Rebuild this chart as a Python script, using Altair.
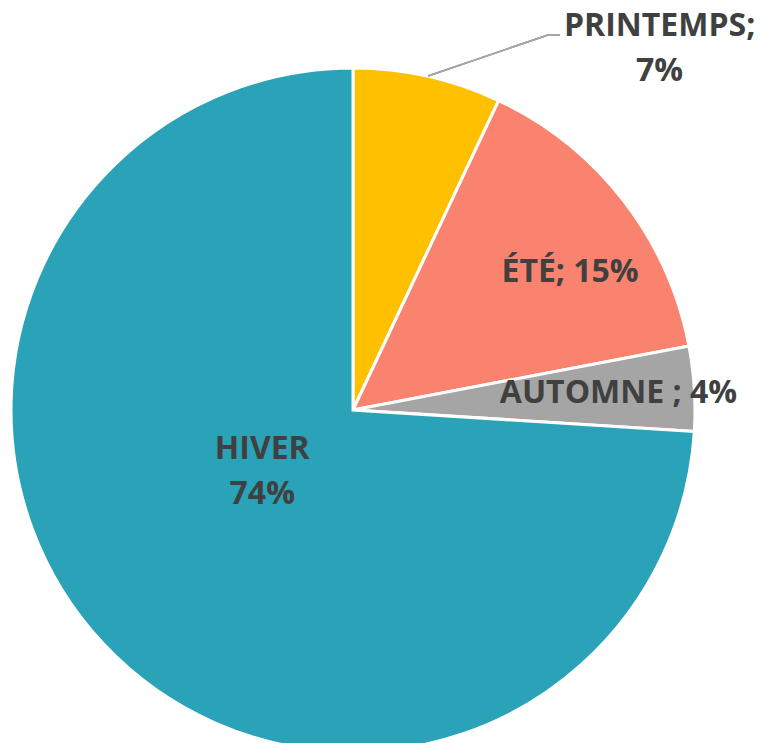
import altair as alt
import pandas as pd

categories = ["PRINTEMPS", "ÉTÉ", "AUTOMNE", "HIVER"]
values = [7, 15, 4, 74]
labels = ["PRINTEMPS;\n7%", "ÉTÉ; 15%", "AUTOMNE ; 4%", "HIVER\n74%"]
colors = ["#FFC000", "#FA8370", "#A5A5A5", "#2AA2B8"]

df = pd.DataFrame({"cat": categories, "value": values, "label": labels,
                   "order": list(range(len(categories)))})

CX, CY, R = 345, 402, 342
FONT = "Open Sans"

base = alt.Chart(df)

pie = base.mark_arc(radius=R, stroke="white", strokeWidth=3).encode(
    theta=alt.Theta("value:Q", stack=True),
    order=alt.Order("order:Q"),
    color=alt.Color("cat:N", scale=alt.Scale(domain=categories, range=colors), legend=None),
    x=alt.value(CX), y=alt.value(CY),
)

lab_base = base.transform_window(
    cum="sum(value)", sort=[alt.SortField("order")], frame=[None, 0]
).transform_calculate(mid="datum.cum - datum.value / 2")

# (radius, dx, dy) for each label
label_layout = {
    "PRINTEMPS": (342, 232, -50),
    "ÉTÉ": (257, 14, 20),
    "AUTOMNE": (266, 0, 0),
    "HIVER": (108, -12, -35),
}

texts = []
for cat in categories:
    r, dx, dy = label_layout[cat]
    t = lab_base.transform_filter(alt.datum.cat == cat).mark_text(
        font=FONT, fontSize=32, fontWeight="bold", color="#404040",
        align="center", baseline="middle", lineBreak="\n", lineHeight=45,
        radius=r, dx=dx, dy=dy,
    ).encode(
        theta=alt.Theta("mid:Q", scale=alt.Scale(domain=[0, 100], range=[0, 6.283185307179586]), stack=None),
        text="label:N",
        x=alt.value(CX), y=alt.value(CY),
    )
    texts.append(t)

leader1 = base.mark_rule(color="#A6A6A6", strokeWidth=1.5).encode(
    x=alt.value(420), y=alt.value(68), x2=alt.value(540), y2=alt.value(27))
leader2 = base.mark_rule(color="#A6A6A6", strokeWidth=1.5).encode(
    x=alt.value(540), y=alt.value(27), x2=alt.value(552), y2=alt.value(27))

chart = alt.layer(pie, leader1, leader2, *texts).properties(
    width=748, height=735, autosize=alt.AutoSizeParams(type="none"), padding=0,
).configure_view(stroke=None)

chart.save("out.html", embed_options={"renderer": "svg", "actions": False})
